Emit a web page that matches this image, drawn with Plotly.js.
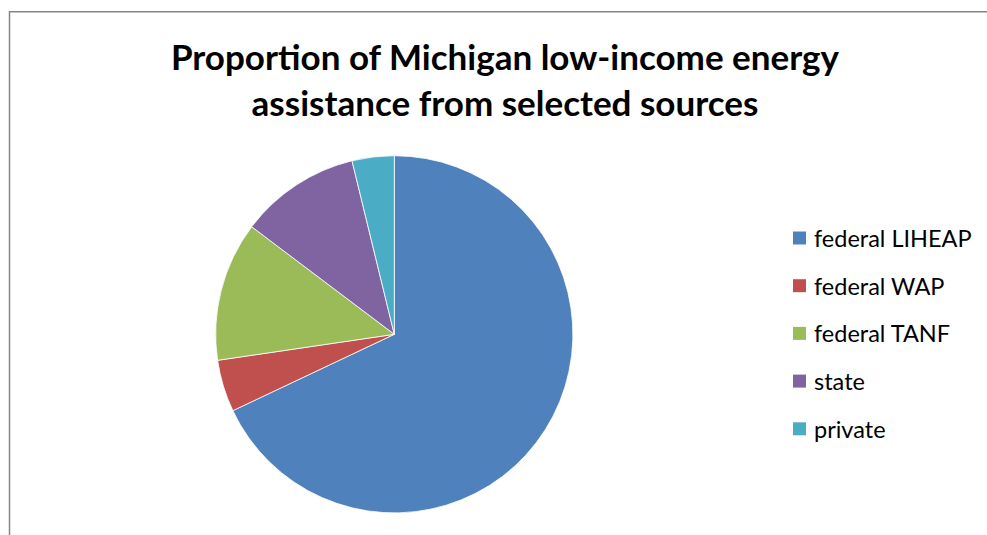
<!DOCTYPE html>
<html>
<head>
<meta charset="utf-8">
<script src="https://cdn.plot.ly/plotly-3.0.1.min.js"></script>
<style>html,body{margin:0;padding:0;background:#fff;}#chart{width:987px;height:535px;}</style>
</head>
<body>
<div id="chart"></div>
<script>
const labels = ["federal LIHEAP", "federal WAP", "federal TANF", "state", "private"];
const values = [67.9, 4.7, 12.6, 10.9, 3.8];
const colors = ["#4F81BD", "#C0504D", "#9BBB59", "#8064A2", "#4BACC6"];
const titleText = "Proportion of Michigan low-income energy<br>assistance from selected sources";

const W = 987, H = 535;
const px = x => x / W;
const py = y => 1 - y / H;

const trace = {
  type: "pie",
  labels: labels,
  values: values,
  marker: {colors: colors, line: {color: "#ffffff", width: 0.8}},
  sort: false,
  direction: "clockwise",
  rotation: 0,
  textinfo: "none",
  hoverinfo: "label+percent",
  domain: {x: [px(215.7), px(572.9)], y: [py(512.9), py(155.7)]},
  showlegend: false
};

const frameColor = "#868686";
const shapes = [
  {type: "line", xref: "paper", yref: "paper", x0: px(9.5), x1: px(9.5), y0: py(11), y1: -0.02,
   line: {color: frameColor, width: 1.5}, layer: "above"},
  {type: "line", xref: "paper", yref: "paper", x0: px(9), x1: 1.02, y0: py(11.7), y1: py(11.7),
   line: {color: frameColor, width: 1.5}, layer: "above"}
];
const annotations = [];
const legX = 793, legY0 = 238, legDy = 47.7, sq = 13;
labels.forEach((lab, i) => {
  const cy = legY0 + i * legDy;
  shapes.push({
    type: "rect", xref: "paper", yref: "paper",
    x0: px(legX), x1: px(legX + sq), y0: py(cy + sq / 2), y1: py(cy - sq / 2),
    fillcolor: colors[i], line: {width: 0}
  });
  annotations.push({
    xref: "paper", yref: "paper", x: px(legX + 19), y: py(cy),
    xanchor: "left", yanchor: "middle", showarrow: false, text: lab,
    font: {family: "Lato, 'Open Sans', sans-serif", size: 23.5, color: "#000"}
  });
});

const layout = {
  width: W, height: H,
  margin: {l: 0, r: 0, t: 0, b: 0},
  paper_bgcolor: "#fff",
  title: {
    text: titleText,
    x: px(505), xanchor: "center",
    y: 1 - 70 / H, yanchor: "top", yref: "container",
    font: {family: "Lato, 'Open Sans', sans-serif", size: 35, color: "#000", weight: "bold"}
  },
  shapes: shapes,
  annotations: annotations
};

Plotly.newPlot("chart", [trace], layout, {displayModeBar: false, staticPlot: true});
</script>
</body>
</html>
